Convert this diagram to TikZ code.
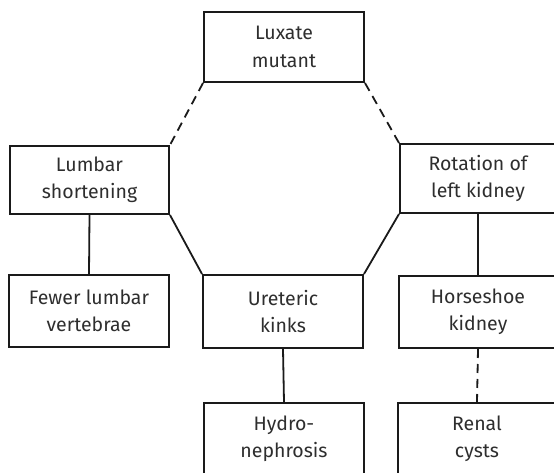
\documentclass[tikz,border=0pt]{standalone}
\usepackage{fontspec}
\setmainfont{Fira Sans}
\definecolor{inkline}{HTML}{1A1A1A}
\definecolor{inktext}{HTML}{2E2E2E}
\tikzset{
  box/.style={draw=inkline, line width=2pt, minimum width=160pt, minimum height=70pt,
    align=center, text=inktext, font=\fontsize{19.5}{27.5}\selectfont, inner sep=0pt},
  link/.style={draw=inkline, line width=1.8pt},
  dlink/.style={draw=inkline, line width=1.8pt, dash pattern=on 9pt off 6pt}
}
\begin{document}
\begin{tikzpicture}[x=1pt,y=-1pt]
\useasboundingbox (0,0) rectangle (554,473);
\clip (0,0) rectangle (554,473);
\fill[white] (0,0) rectangle (554,473);
\node[box] (lux) at (284,47) {Luxate\\mutant};
\node[box, minimum width=159pt, minimum height=68pt] (lum) at (89.5,180) {Lumbar\\shortening};
\node[box, minimum width=156pt, minimum height=69pt] (rot) at (478,178.5) {Rotation of\\left kidney};
\node[box, minimum height=72pt] (few) at (89,311) {Fewer lumbar\\vertebrae};
\node[box, minimum height=73pt] (ure) at (283,311.5) {Ureteric\\kinks};
\node[box, minimum width=158pt, minimum height=72pt] (hor) at (478,312) {Horseshoe\\kidney};
\node[box, minimum width=160pt, minimum height=72pt] (hyd) at (284,439) {Hydro-\\nephrosis};
\node[box, minimum width=158pt, minimum height=72pt] (ren) at (477,439) {Renal\\cysts};
\draw[dlink] (lux.south west) -- (lum.north east);
\draw[dlink] (lux.south east) -- (rot.north west);
\draw[link] (lum.south east) -- (ure.north west);
\draw[link] (rot.south west) -- (ure.north east);
\draw[link] (lum.south) -- (few.north);
\draw[link] (rot.south) -- (hor.north);
\draw[link] (ure.south) -- (hyd.north);
\draw[dlink] (hor.south) -- (ren.north);
\end{tikzpicture}
\end{document}
